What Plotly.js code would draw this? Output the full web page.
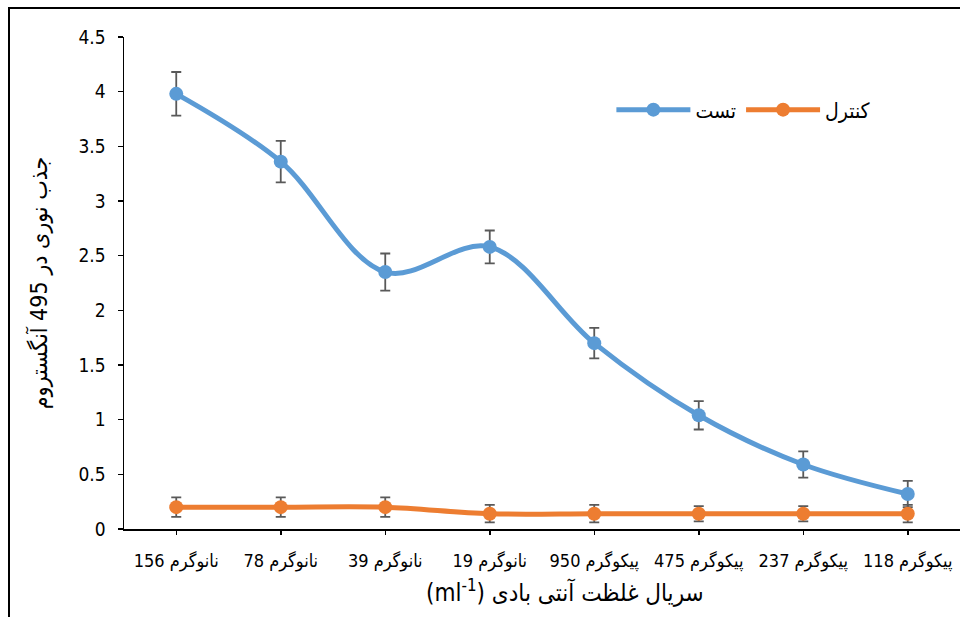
<!DOCTYPE html>
<html>
<head>
<meta charset="utf-8">
<script src="https://cdn.plot.ly/plotly-3.0.1.min.js"></script>
<style>
html,body{margin:0;padding:0;background:#fff;}
#chart{width:960px;height:617px;}
</style>
</head>
<body>
<div id="chart"></div>
<script>
const categories = ["156 نانوگرم","78 نانوگرم","39 نانوگرم","19 نانوگرم","950 پیکوگرم","475 پیکوگرم","237 پیکوگرم","118 پیکوگرم"];
const testValues = [3.98, 3.36, 2.35, 2.58, 1.70, 1.04, 0.59, 0.32];
const testErrors = [0.20, 0.19, 0.17, 0.15, 0.14, 0.13, 0.12, 0.12];
const controlValues = [0.20, 0.20, 0.20, 0.14, 0.14, 0.14, 0.14, 0.14];
const controlErrors = [0.09, 0.09, 0.09, 0.08, 0.08, 0.07, 0.07, 0.08];
const seriesNames = ["تست","کنترل"];
const xTitle = "(ml<sup>-1</sup>) سریال غلظت آنتی بادی";
const yTitle = "جذب نوری در 495 آنگستروم";

const baseFont = "'Liberation Sans Narrow', 'DejaVu Sans Condensed', 'DejaVu Sans', sans-serif";
const titleFont = "'DejaVu Sans Condensed', 'DejaVu Sans', sans-serif";

const errStyle = {type:'data', visible:true, color:'#595959', thickness:1.8, width:5};

const traces = [
  {
    x: categories, y: testValues, name: seriesNames[0], type:'scatter', mode:'lines+markers',
    line:{color:'#5B9BD5', width:5, shape:'spline', smoothing:1},
    marker:{color:'#5B9BD5', size:14},
    error_y: Object.assign({array: testErrors}, errStyle)
  },
  {
    x: categories, y: controlValues, name: seriesNames[1], type:'scatter', mode:'lines+markers',
    line:{color:'#ED7D31', width:5, shape:'spline', smoothing:1},
    marker:{color:'#ED7D31', size:14},
    error_y: Object.assign({array: controlErrors}, errStyle)
  }
];

const L = 124, R = 0, T = 37, B = 88;
const pw = 960 - L - R, ph = 617 - T - B;

const layout = {
  width: 960, height: 617,
  margin: {l: L, r: R, t: T, b: B, pad: 0},
  paper_bgcolor: '#fff', plot_bgcolor: '#fff',
  font: {family: baseFont, color: '#000', size: 16},
  showlegend: true,
  legend: {
    orientation: 'h', x: 0.583, y: 1 - (110 - T)/ph, xanchor: 'left', yanchor: 'middle',
    font: {size: 21, family: titleFont}, bgcolor: 'rgba(0,0,0,0)',
    itemwidth: 74
  },
  xaxis: {
    type: 'category', showgrid: false, zeroline: false,
    showline: true, linecolor: '#000', linewidth: 1.5,
    ticks: 'outside', ticklen: 4, tickcolor: '#000', tickwidth: 1.5,
    ticklabelstandoff: 11,
    tickfont: {size: 18, family: baseFont},
    range: [-0.5, 7.5]
  },
  yaxis: {
    range: [0, 4.5], dtick: 0.5, showgrid: false, zeroline: false,
    showline: true, linecolor: '#000', linewidth: 1.5,
    ticks: 'outside', ticklen: 5, tickcolor: '#000', tickwidth: 1.2,
    ticklabelstandoff: 8,
    tickfont: {size: 19, family: baseFont},
    title: {text: yTitle, font: {size: 23, family: baseFont}, standoff: 24}
  },
  annotations: [
    {text: xTitle, xref: 'paper', yref: 'paper', x: (565 - L)/pw, y: -(591 - (T + ph))/ph,
     xanchor: 'center', yanchor: 'middle', showarrow: false,
     font: {size: 24, family: titleFont, color: '#000'}}
  ],
  shapes: [
    {type:'rect', xref:'paper', yref:'paper',
     x0: (9 - L)/pw, x1: (975 - L)/pw, y0: -(640 - T - ph)/ph, y1: 1 + (T - 8)/ph,
     line:{color:'#000', width:2}, fillcolor:'rgba(0,0,0,0)', layer:'below'}
  ]
};

Plotly.newPlot('chart', traces, layout, {displayModeBar: false, staticPlot: true});
</script>
</body>
</html>
